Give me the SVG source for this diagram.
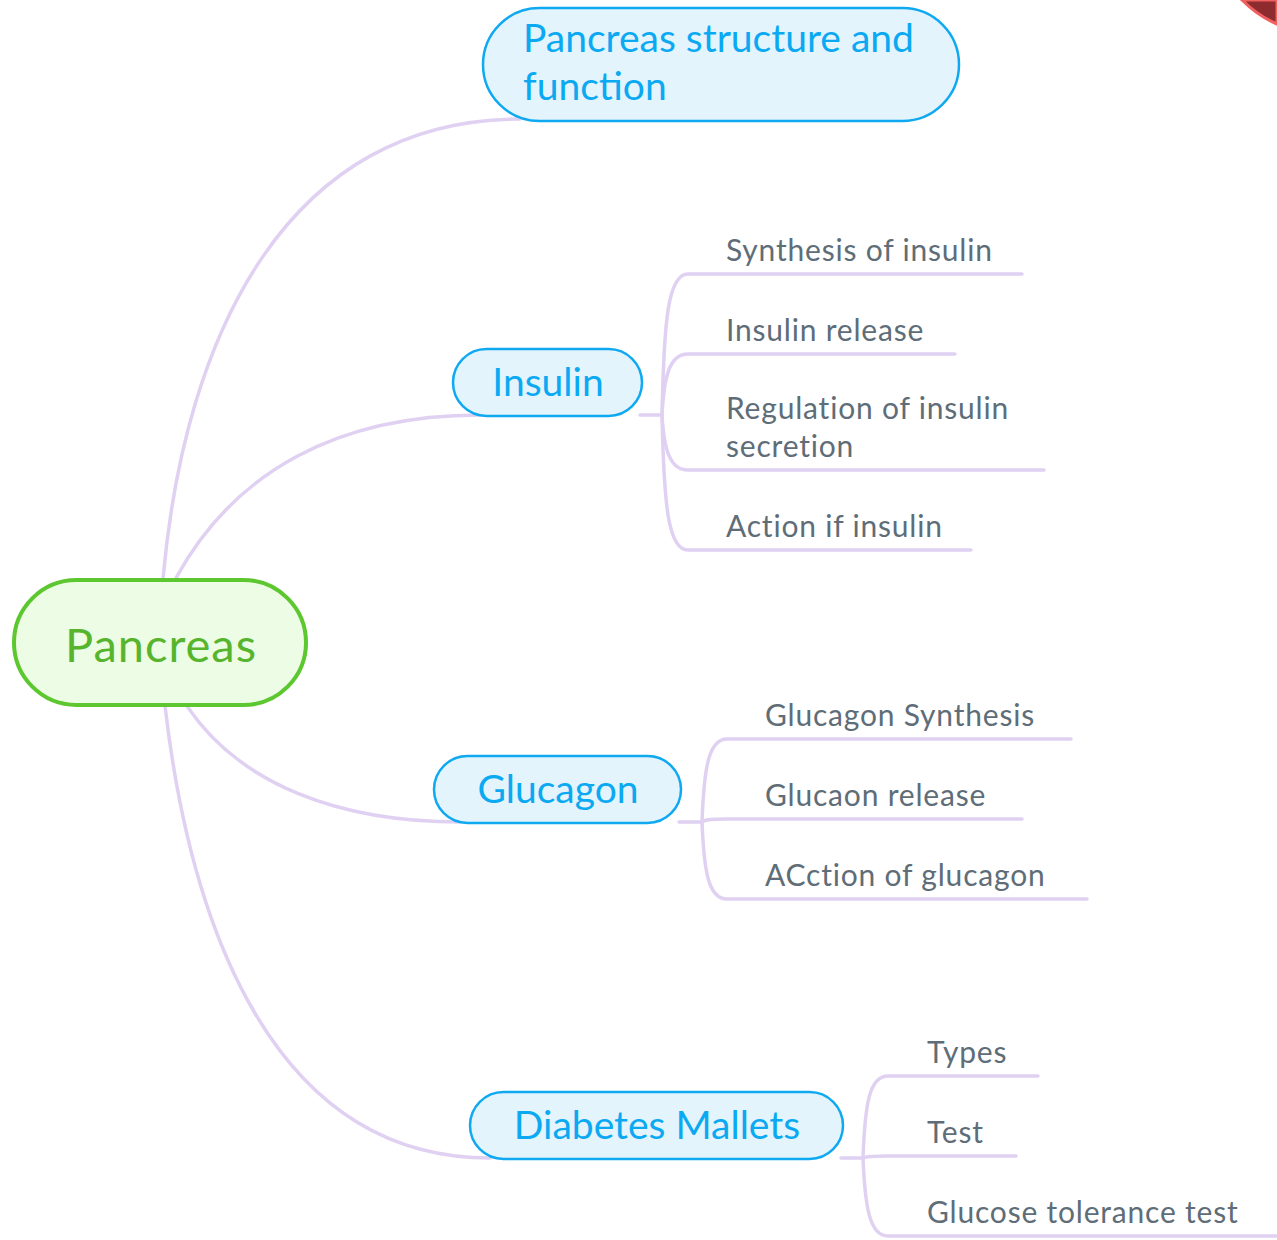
<svg xmlns="http://www.w3.org/2000/svg" width="1277" height="1240" viewBox="0 0 1277 1240">
<style>
.conn{fill:none;stroke:#E0D1F2;stroke-width:3.5;stroke-linecap:round}
.main rect{fill:#E3F4FD;stroke:#0FA9F2;stroke-width:2.5}
.main text{font-family:Lato,"Noto Sans",sans-serif;font-size:39px;fill:#0AA9F2}
.sub text{font-family:Lato,"Noto Sans",sans-serif;font-size:30px;letter-spacing:0.8px;fill:#5E6D77}
</style>
<rect width="1277" height="1240" fill="#fff"/>
<path d="M1242,0 Q1258,16 1277,24 L1277,0 Z" fill="#8E2B2E" stroke="#F0605E" stroke-width="3"/>
<g id="connectors">
<path class="conn" d="M163,579 C185,330 290,119 520,119"/>
<path class="conn" d="M176,578 C235,470 340,415 480,415"/>
<path class="conn" d="M187,706 C240,785 340,822 460,822"/>
<path class="conn" d="M165,706 C190,920 270,1158 490,1158"/>
<path class="conn" d="M640,415 L662,415"/>
<path class="conn" d="M662,415 C664,320 668,274 688,274 L1022,274"/>
<path class="conn" d="M662,415 C664,375 670,354 688,354 L955,354"/>
<path class="conn" d="M662,415 C664,450 670,470 688,470 L1044,470"/>
<path class="conn" d="M662,415 C664,505 668,550 688,550 L971,550"/>
<path class="conn" d="M679,822 L702,822"/>
<path class="conn" d="M702,822 C704,770 708,739 727,739 L1071,739"/>
<path class="conn" d="M702,822 C704,820 708,819 727,819 L1022,819"/>
<path class="conn" d="M702,822 C704,870 708,899 727,899 L1087,899"/>
<path class="conn" d="M841,1158 L863,1158"/>
<path class="conn" d="M863,1158 C865,1105 869,1076 888,1076 L1038,1076"/>
<path class="conn" d="M863,1158 C865,1157 869,1156 888,1156 L1016,1156"/>
<path class="conn" d="M863,1158 C865,1205 869,1236 888,1236 L1277,1236"/>
</g>
<g id="root">
<rect x="14" y="580" width="292" height="125" rx="62.5" fill="#EDFCE5" stroke="#5CC72E" stroke-width="4"/>
<text x="161" y="662" text-anchor="middle" font-family="Lato,'Noto Sans',sans-serif" font-size="47" letter-spacing="1" fill="#57B52D">Pancreas</text>
</g>
<g id="structure" class="main">
<rect x="483" y="8" width="476" height="113" rx="56.5"/>
<text x="523" y="52">Pancreas structure and</text>
<text x="523" y="100">function</text>
</g>
<g id="insulin" class="main">
<rect x="453" y="349" width="189" height="67" rx="33.5"/>
<text x="548" y="396" text-anchor="middle">Insulin</text>
</g>
<g id="glucagon" class="main">
<rect x="434" y="756" width="247" height="67" rx="33.5"/>
<text x="558" y="803" text-anchor="middle">Glucagon</text>
</g>
<g id="diabetes" class="main">
<rect x="470" y="1092" width="373" height="67" rx="33.5"/>
<text x="657" y="1139" text-anchor="middle">Diabetes Mallets</text>
</g>
<g id="synthesis" class="sub"><text x="726" y="261">Synthesis of insulin</text></g>
<g id="release" class="sub"><text x="726" y="341">Insulin release</text></g>
<g id="regulation" class="sub"><text x="726" y="419">Regulation of insulin</text><text x="726" y="457">secretion</text></g>
<g id="action" class="sub"><text x="726" y="537">Action if insulin</text></g>
<g id="gsynthesis" class="sub"><text x="765" y="726">Glucagon Synthesis</text></g>
<g id="grelease" class="sub"><text x="765" y="806">Glucaon release</text></g>
<g id="gaction" class="sub"><text x="765" y="886">ACction of glucagon</text></g>
<g id="types" class="sub"><text x="927" y="1063">Types</text></g>
<g id="test" class="sub"><text x="927" y="1143">Test</text></g>
<g id="gtt" class="sub"><text x="927" y="1223">Glucose tolerance test</text></g>
</svg>
